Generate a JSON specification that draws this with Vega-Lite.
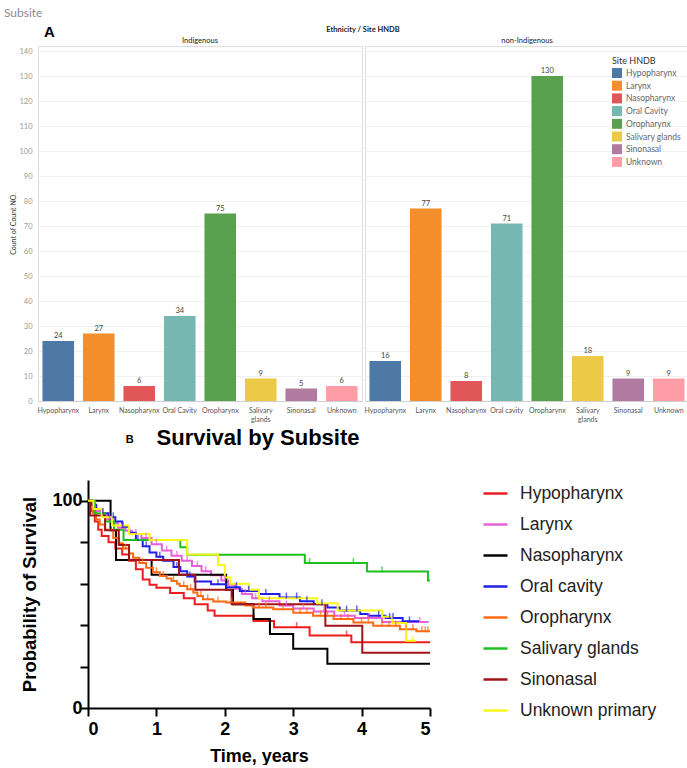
{
  "$schema": "https://vega.github.io/schema/vega-lite/v6.json",
  "background": "white",
  "padding": {"left": 3, "top": 6, "right": 0, "bottom": 0},
  "title": {"text": "Subsite", "anchor": "start", "frame": "bounds", "fontSize": 12, "fontWeight": "normal", "font": "Lato", "color": "#8a8a8a", "dx": -6, "offset": 5},
  "datasets": {
    "bars": [
      {"eth": "Indigenous", "site": "Hypopharynx", "label": "Hypopharynx", "count": 24},
      {"eth": "Indigenous", "site": "Larynx", "label": "Larynx", "count": 27},
      {"eth": "Indigenous", "site": "Nasopharynx", "label": "Nasopharynx", "count": 6},
      {"eth": "Indigenous", "site": "Oral Cavity", "label": "Oral Cavity", "count": 34},
      {"eth": "Indigenous", "site": "Oropharynx", "label": "Oropharynx", "count": 75},
      {"eth": "Indigenous", "site": "Salivary glands", "label": "Salivary glands", "count": 9},
      {"eth": "Indigenous", "site": "Sinonasal", "label": "Sinonasal", "count": 5},
      {"eth": "Indigenous", "site": "Unknown", "label": "Unknown", "count": 6},
      {"eth": "non-Indigenous", "site": "Hypopharynx", "label": "Hypopharynx", "count": 16},
      {"eth": "non-Indigenous", "site": "Larynx", "label": "Larynx", "count": 77},
      {"eth": "non-Indigenous", "site": "Nasopharynx", "label": "Nasopharynx", "count": 8},
      {"eth": "non-Indigenous", "site": "Oral Cavity", "label": "Oral cavity", "count": 71},
      {"eth": "non-Indigenous", "site": "Oropharynx", "label": "Oropharynx", "count": 130},
      {"eth": "non-Indigenous", "site": "Salivary glands", "label": "Salivary glands", "count": 18},
      {"eth": "non-Indigenous", "site": "Sinonasal", "label": "Sinonasal", "count": 9},
      {"eth": "non-Indigenous", "site": "Unknown", "label": "Unknown", "count": 9}
    ],
    "km": [
      {"g": "Hypopharynx", "t": 0, "s": 100}, {"g": "Hypopharynx", "t": 0.05, "s": 95}, {"g": "Hypopharynx", "t": 0.1, "s": 90}, {"g": "Hypopharynx", "t": 0.15, "s": 86}, {"g": "Hypopharynx", "t": 0.2, "s": 83}, {"g": "Hypopharynx", "t": 0.3, "s": 80}, {"g": "Hypopharynx", "t": 0.4, "s": 77}, {"g": "Hypopharynx", "t": 0.5, "s": 74}, {"g": "Hypopharynx", "t": 0.6, "s": 71}, {"g": "Hypopharynx", "t": 0.7, "s": 67}, {"g": "Hypopharynx", "t": 0.8, "s": 62}, {"g": "Hypopharynx", "t": 0.9, "s": 59.5}, {"g": "Hypopharynx", "t": 1.0, "s": 58}, {"g": "Hypopharynx", "t": 1.2, "s": 55.5}, {"g": "Hypopharynx", "t": 1.4, "s": 53}, {"g": "Hypopharynx", "t": 1.56, "s": 50}, {"g": "Hypopharynx", "t": 1.75, "s": 47}, {"g": "Hypopharynx", "t": 1.85, "s": 44.5}, {"g": "Hypopharynx", "t": 2.42, "s": 42}, {"g": "Hypopharynx", "t": 2.72, "s": 39}, {"g": "Hypopharynx", "t": 3.24, "s": 35}, {"g": "Hypopharynx", "t": 3.85, "s": 31.7}, {"g": "Hypopharynx", "t": 5, "s": 31.7},
      {"g": "Larynx", "t": 0, "s": 100}, {"g": "Larynx", "t": 0.05, "s": 97}, {"g": "Larynx", "t": 0.12, "s": 95}, {"g": "Larynx", "t": 0.2, "s": 93}, {"g": "Larynx", "t": 0.28, "s": 91}, {"g": "Larynx", "t": 0.36, "s": 89}, {"g": "Larynx", "t": 0.44, "s": 87}, {"g": "Larynx", "t": 0.55, "s": 85.5}, {"g": "Larynx", "t": 0.64, "s": 84}, {"g": "Larynx", "t": 0.78, "s": 82}, {"g": "Larynx", "t": 0.93, "s": 79}, {"g": "Larynx", "t": 1.08, "s": 76}, {"g": "Larynx", "t": 1.22, "s": 73.5}, {"g": "Larynx", "t": 1.37, "s": 71}, {"g": "Larynx", "t": 1.52, "s": 68.5}, {"g": "Larynx", "t": 1.66, "s": 66}, {"g": "Larynx", "t": 1.8, "s": 64}, {"g": "Larynx", "t": 1.95, "s": 61.5}, {"g": "Larynx", "t": 2.05, "s": 59.5}, {"g": "Larynx", "t": 2.15, "s": 57.5}, {"g": "Larynx", "t": 2.25, "s": 55}, {"g": "Larynx", "t": 2.4, "s": 53}, {"g": "Larynx", "t": 2.55, "s": 51.5}, {"g": "Larynx", "t": 2.8, "s": 49.5}, {"g": "Larynx", "t": 3.0, "s": 48}, {"g": "Larynx", "t": 3.3, "s": 46.5}, {"g": "Larynx", "t": 3.6, "s": 44.5}, {"g": "Larynx", "t": 3.9, "s": 43.4}, {"g": "Larynx", "t": 4.3, "s": 41.5}, {"g": "Larynx", "t": 4.98, "s": 41.5},
      {"g": "Nasopharynx", "t": 0, "s": 100}, {"g": "Nasopharynx", "t": 0.33, "s": 85.7}, {"g": "Nasopharynx", "t": 0.41, "s": 71.4}, {"g": "Nasopharynx", "t": 0.93, "s": 64.3}, {"g": "Nasopharynx", "t": 2.02, "s": 57.1}, {"g": "Nasopharynx", "t": 2.12, "s": 50}, {"g": "Nasopharynx", "t": 2.42, "s": 42.9}, {"g": "Nasopharynx", "t": 2.66, "s": 35.7}, {"g": "Nasopharynx", "t": 3.0, "s": 28.6}, {"g": "Nasopharynx", "t": 3.5, "s": 21.4}, {"g": "Nasopharynx", "t": 5, "s": 21.4},
      {"g": "Oral cavity", "t": 0, "s": 100}, {"g": "Oral cavity", "t": 0.05, "s": 98}, {"g": "Oral cavity", "t": 0.12, "s": 96}, {"g": "Oral cavity", "t": 0.2, "s": 94}, {"g": "Oral cavity", "t": 0.3, "s": 92}, {"g": "Oral cavity", "t": 0.4, "s": 90}, {"g": "Oral cavity", "t": 0.5, "s": 87.5}, {"g": "Oral cavity", "t": 0.6, "s": 84.5}, {"g": "Oral cavity", "t": 0.7, "s": 81}, {"g": "Oral cavity", "t": 0.8, "s": 78}, {"g": "Oral cavity", "t": 0.9, "s": 75}, {"g": "Oral cavity", "t": 1.0, "s": 73}, {"g": "Oral cavity", "t": 1.1, "s": 71}, {"g": "Oral cavity", "t": 1.25, "s": 68}, {"g": "Oral cavity", "t": 1.35, "s": 66}, {"g": "Oral cavity", "t": 1.45, "s": 63.5}, {"g": "Oral cavity", "t": 1.56, "s": 61}, {"g": "Oral cavity", "t": 1.8, "s": 59.7}, {"g": "Oral cavity", "t": 2.02, "s": 58.3}, {"g": "Oral cavity", "t": 2.22, "s": 56.5}, {"g": "Oral cavity", "t": 2.5, "s": 55}, {"g": "Oral cavity", "t": 2.8, "s": 53.3}, {"g": "Oral cavity", "t": 3.1, "s": 51.5}, {"g": "Oral cavity", "t": 3.3, "s": 50}, {"g": "Oral cavity", "t": 3.5, "s": 48.5}, {"g": "Oral cavity", "t": 3.68, "s": 47}, {"g": "Oral cavity", "t": 3.98, "s": 45.3}, {"g": "Oral cavity", "t": 4.1, "s": 44.5}, {"g": "Oral cavity", "t": 4.35, "s": 43.4}, {"g": "Oral cavity", "t": 4.6, "s": 41.8}, {"g": "Oral cavity", "t": 4.84, "s": 41.8},
      {"g": "Oropharynx", "t": 0, "s": 100}, {"g": "Oropharynx", "t": 0.03, "s": 97}, {"g": "Oropharynx", "t": 0.07, "s": 94}, {"g": "Oropharynx", "t": 0.12, "s": 91}, {"g": "Oropharynx", "t": 0.17, "s": 88.5}, {"g": "Oropharynx", "t": 0.25, "s": 86}, {"g": "Oropharynx", "t": 0.37, "s": 82}, {"g": "Oropharynx", "t": 0.45, "s": 79.5}, {"g": "Oropharynx", "t": 0.51, "s": 77}, {"g": "Oropharynx", "t": 0.6, "s": 74.5}, {"g": "Oropharynx", "t": 0.66, "s": 72.5}, {"g": "Oropharynx", "t": 0.75, "s": 70}, {"g": "Oropharynx", "t": 0.85, "s": 67.7}, {"g": "Oropharynx", "t": 0.95, "s": 65.5}, {"g": "Oropharynx", "t": 1.05, "s": 63.7}, {"g": "Oropharynx", "t": 1.15, "s": 62.5}, {"g": "Oropharynx", "t": 1.22, "s": 61.3}, {"g": "Oropharynx", "t": 1.3, "s": 60}, {"g": "Oropharynx", "t": 1.34, "s": 58.9}, {"g": "Oropharynx", "t": 1.45, "s": 57.3}, {"g": "Oropharynx", "t": 1.54, "s": 55.7}, {"g": "Oropharynx", "t": 1.6, "s": 54}, {"g": "Oropharynx", "t": 1.68, "s": 52.5}, {"g": "Oropharynx", "t": 1.83, "s": 51.4}, {"g": "Oropharynx", "t": 2.02, "s": 50.9}, {"g": "Oropharynx", "t": 2.3, "s": 49.5}, {"g": "Oropharynx", "t": 2.41, "s": 48.5}, {"g": "Oropharynx", "t": 2.71, "s": 47.7}, {"g": "Oropharynx", "t": 3.0, "s": 46}, {"g": "Oropharynx", "t": 3.29, "s": 44.5}, {"g": "Oropharynx", "t": 3.59, "s": 42.9}, {"g": "Oropharynx", "t": 3.88, "s": 41.3}, {"g": "Oropharynx", "t": 4.17, "s": 39.7}, {"g": "Oropharynx", "t": 4.56, "s": 38}, {"g": "Oropharynx", "t": 4.8, "s": 37}, {"g": "Oropharynx", "t": 5.0, "s": 37},
      {"g": "Salivary glands", "t": 0, "s": 100}, {"g": "Salivary glands", "t": 0.1, "s": 94}, {"g": "Salivary glands", "t": 0.25, "s": 90}, {"g": "Salivary glands", "t": 0.38, "s": 86}, {"g": "Salivary glands", "t": 0.52, "s": 81}, {"g": "Salivary glands", "t": 1.35, "s": 77.5}, {"g": "Salivary glands", "t": 1.45, "s": 73.9}, {"g": "Salivary glands", "t": 3.17, "s": 69.9}, {"g": "Salivary glands", "t": 4.08, "s": 65.9}, {"g": "Salivary glands", "t": 4.97, "s": 61.5}, {"g": "Salivary glands", "t": 5.0, "s": 61.5},
      {"g": "Sinonasal", "t": 0, "s": 100}, {"g": "Sinonasal", "t": 0.03, "s": 92.9}, {"g": "Sinonasal", "t": 0.25, "s": 85.7}, {"g": "Sinonasal", "t": 0.45, "s": 78.6}, {"g": "Sinonasal", "t": 0.6, "s": 71.4}, {"g": "Sinonasal", "t": 1.33, "s": 64.3}, {"g": "Sinonasal", "t": 1.57, "s": 57.1}, {"g": "Sinonasal", "t": 2.1, "s": 50}, {"g": "Sinonasal", "t": 3.47, "s": 39.7}, {"g": "Sinonasal", "t": 4.01, "s": 26.6}, {"g": "Sinonasal", "t": 5, "s": 26.6},
      {"g": "Unknown primary", "t": 0, "s": 100}, {"g": "Unknown primary", "t": 0.08, "s": 96}, {"g": "Unknown primary", "t": 0.2, "s": 92}, {"g": "Unknown primary", "t": 0.35, "s": 88}, {"g": "Unknown primary", "t": 0.6, "s": 84}, {"g": "Unknown primary", "t": 0.9, "s": 81}, {"g": "Unknown primary", "t": 1.45, "s": 74}, {"g": "Unknown primary", "t": 1.9, "s": 69}, {"g": "Unknown primary", "t": 2.0, "s": 63}, {"g": "Unknown primary", "t": 2.08, "s": 60}, {"g": "Unknown primary", "t": 2.35, "s": 57}, {"g": "Unknown primary", "t": 2.5, "s": 53}, {"g": "Unknown primary", "t": 3.35, "s": 50.5}, {"g": "Unknown primary", "t": 3.65, "s": 47}, {"g": "Unknown primary", "t": 4.3, "s": 44}, {"g": "Unknown primary", "t": 4.45, "s": 41}, {"g": "Unknown primary", "t": 4.65, "s": 32.5}, {"g": "Unknown primary", "t": 4.8, "s": 32.5}
    ],
    "cens": [
      {"g": "Hypopharynx", "t": 3.05, "s": 39}, {"g": "Hypopharynx", "t": 3.78, "s": 35},
      {"g": "Larynx", "t": 0.32, "s": 91}, {"g": "Larynx", "t": 0.5, "s": 87}, {"g": "Larynx", "t": 0.7, "s": 84}, {"g": "Larynx", "t": 0.85, "s": 82}, {"g": "Larynx", "t": 1.0, "s": 79}, {"g": "Larynx", "t": 1.15, "s": 76}, {"g": "Larynx", "t": 1.3, "s": 73.5}, {"g": "Larynx", "t": 1.45, "s": 71}, {"g": "Larynx", "t": 1.6, "s": 68.5}, {"g": "Larynx", "t": 1.72, "s": 66}, {"g": "Larynx", "t": 2.0, "s": 61.5}, {"g": "Larynx", "t": 2.3, "s": 55}, {"g": "Larynx", "t": 2.45, "s": 53}, {"g": "Larynx", "t": 2.65, "s": 51.5}, {"g": "Larynx", "t": 2.9, "s": 49.5}, {"g": "Larynx", "t": 3.15, "s": 48}, {"g": "Larynx", "t": 3.45, "s": 46.5}, {"g": "Larynx", "t": 3.75, "s": 44.5}, {"g": "Larynx", "t": 4.1, "s": 43.4}, {"g": "Larynx", "t": 4.85, "s": 41.5},
      {"g": "Oral cavity", "t": 0.22, "s": 94}, {"g": "Oral cavity", "t": 0.37, "s": 92}, {"g": "Oral cavity", "t": 0.51, "s": 87.5}, {"g": "Oral cavity", "t": 0.73, "s": 81}, {"g": "Oral cavity", "t": 0.85, "s": 78}, {"g": "Oral cavity", "t": 1.05, "s": 73}, {"g": "Oral cavity", "t": 1.3, "s": 68}, {"g": "Oral cavity", "t": 1.49, "s": 63.5}, {"g": "Oral cavity", "t": 1.9, "s": 59.7}, {"g": "Oral cavity", "t": 2.17, "s": 58.3}, {"g": "Oral cavity", "t": 2.35, "s": 56.5}, {"g": "Oral cavity", "t": 2.6, "s": 55}, {"g": "Oral cavity", "t": 2.9, "s": 53.3}, {"g": "Oral cavity", "t": 3.05, "s": 53.3}, {"g": "Oral cavity", "t": 3.2, "s": 51.5}, {"g": "Oral cavity", "t": 3.42, "s": 50}, {"g": "Oral cavity", "t": 3.78, "s": 47}, {"g": "Oral cavity", "t": 3.93, "s": 47}, {"g": "Oral cavity", "t": 4.25, "s": 44.5}, {"g": "Oral cavity", "t": 4.41, "s": 43.4}, {"g": "Oral cavity", "t": 4.46, "s": 43.4}, {"g": "Oral cavity", "t": 4.7, "s": 41.8},
      {"g": "Oropharynx", "t": 0.55, "s": 77}, {"g": "Oropharynx", "t": 0.8, "s": 70}, {"g": "Oropharynx", "t": 1.0, "s": 65.5}, {"g": "Oropharynx", "t": 1.1, "s": 63.7}, {"g": "Oropharynx", "t": 1.25, "s": 61.3}, {"g": "Oropharynx", "t": 1.4, "s": 58.9}, {"g": "Oropharynx", "t": 1.5, "s": 57.3}, {"g": "Oropharynx", "t": 1.65, "s": 54}, {"g": "Oropharynx", "t": 1.75, "s": 52.5}, {"g": "Oropharynx", "t": 1.9, "s": 51.4}, {"g": "Oropharynx", "t": 2.1, "s": 50.9}, {"g": "Oropharynx", "t": 2.5, "s": 48.5}, {"g": "Oropharynx", "t": 2.6, "s": 48.5}, {"g": "Oropharynx", "t": 2.85, "s": 47.7}, {"g": "Oropharynx", "t": 3.1, "s": 46}, {"g": "Oropharynx", "t": 3.2, "s": 46}, {"g": "Oropharynx", "t": 3.4, "s": 44.5}, {"g": "Oropharynx", "t": 3.5, "s": 44.5}, {"g": "Oropharynx", "t": 3.7, "s": 42.9}, {"g": "Oropharynx", "t": 3.8, "s": 42.9}, {"g": "Oropharynx", "t": 4.0, "s": 41.3}, {"g": "Oropharynx", "t": 4.1, "s": 41.3}, {"g": "Oropharynx", "t": 4.3, "s": 39.7}, {"g": "Oropharynx", "t": 4.4, "s": 39.7}, {"g": "Oropharynx", "t": 4.5, "s": 39.7}, {"g": "Oropharynx", "t": 4.65, "s": 38}, {"g": "Oropharynx", "t": 4.75, "s": 38}, {"g": "Oropharynx", "t": 4.88, "s": 37}, {"g": "Oropharynx", "t": 4.93, "s": 37}, {"g": "Oropharynx", "t": 4.97, "s": 37},
      {"g": "Salivary glands", "t": 3.24, "s": 69.9}, {"g": "Salivary glands", "t": 3.88, "s": 69.9}, {"g": "Salivary glands", "t": 4.3, "s": 65.9},
      {"g": "Unknown primary", "t": 4.75, "s": 32.5}
    ]
  },
  "concat": [
    {
      "data": {"name": "bars"},
      "title": {"text": "A", "anchor": "start", "frame": "group", "font": "Liberation Sans", "fontSize": 15, "fontWeight": "bold", "color": "#000", "dx": 6, "offset": -14},
      "facet": {
        "column": {
          "field": "eth", "type": "nominal", "sort": ["Indigenous", "non-Indigenous"],
          "header": {"title": "Ethnicity / Site HNDB", "titleFont": "Lato", "titleFontSize": 7.5, "titleFontWeight": "bold", "titleColor": "#222", "titlePadding": -7, "labelFont": "Lato", "labelFontSize": 7.5, "labelColor": "#222", "labelPadding": 1}
        }
      },
      "spacing": 0,
      "resolve": {"scale": {"x": "independent"}},
      "spec": {
        "width": 324,
        "height": 355,
        "view": {"stroke": "#dedede"},
        "encoding": {
          "x": {"field": "label", "type": "nominal", "sort": null, "title": null,
            "scale": {"paddingInner": 0.22, "paddingOuter": 0.11},
            "axis": {"labelAngle": 0, "labelFont": "Lato", "labelFontSize": 7, "labelColor": "#555", "ticks": false, "domainColor": "#d0d0d0", "labelPadding": 5, "labelLineHeight": 9,
              "labelExpr": "datum.value == 'Salivary glands' ? ['Salivary', 'glands'] : datum.value"}},
          "y": {"field": "count", "type": "quantitative", "title": "Count of Count NO.",
            "scale": {"domain": [0, 142], "nice": false},
            "axis": {"values": [0, 10, 20, 30, 40, 50, 60, 70, 80, 90, 100, 110, 120, 130, 140], "grid": true, "gridColor": "#f0f0f0", "domain": false, "ticks": false, "labelFont": "Lato", "labelFontSize": 7.5, "labelColor": "#999", "labelPadding": 4, "titleFont": "Lato", "titleFontSize": 7, "titleFontWeight": "normal", "titleColor": "#333", "titlePadding": 2}}
        },
        "layer": [
          {
            "mark": {"type": "bar"},
            "encoding": {
              "color": {"field": "site", "type": "nominal",
                "scale": {"domain": ["Hypopharynx", "Larynx", "Nasopharynx", "Oral Cavity", "Oropharynx", "Salivary glands", "Sinonasal", "Unknown"],
                  "range": ["#4e79a7", "#f28e2b", "#e15759", "#76b7b2", "#59a14f", "#edc948", "#b07aa1", "#ff9da7"]},
                "legend": {"title": "Site HNDB", "orient": "none", "legendX": 574, "legendY": 11, "titleFont": "Lato", "titleFontSize": 9, "titleFontWeight": "normal", "titleColor": "#333", "titlePadding": 2, "labelFont": "Lato", "labelFontSize": 8.5, "labelColor": "#666", "symbolType": "square", "symbolSize": 100, "symbolStrokeWidth": 0, "rowPadding": 2.7, "labelOffset": 4, "padding": 0}}
            }
          },
          {
            "mark": {"type": "text", "dy": -5, "font": "Lato", "fontSize": 7.5, "color": "#444"},
            "encoding": {"text": {"field": "count", "type": "quantitative"}}
          }
        ]
      }
    },
    {
      "width": 392,
      "height": 228,
      "title": {"text": "Survival by Subsite", "font": "Liberation Sans", "fontSize": 22, "fontWeight": "bold", "color": "#000", "anchor": "middle", "frame": "group", "offset": -16, "dx": 24},
      "layer": [
        {
          "data": {"name": "km"},
          "mark": {"type": "line", "interpolate": "step-after", "strokeWidth": 2},
          "encoding": {
            "x": {"field": "t", "type": "quantitative", "scale": {"domain": [0, 5], "nice": false, "range": [50, 392]},
              "axis": {"values": [0, 1, 2, 3, 4, 5], "format": "d", "title": "Time, years", "grid": false, "domainColor": "#000", "domainWidth": 2, "tickColor": "#000", "tickWidth": 2, "tickSize": 8, "labelFont": "Liberation Sans", "labelFontSize": 18, "labelFontWeight": "bold", "labelColor": "#000", "labelPadding": 4, "titleFont": "Liberation Sans", "titleFontSize": 18, "titleFontWeight": "bold", "titleColor": "#000", "titlePadding": 9}},
            "y": {"field": "s", "type": "quantitative", "scale": {"domain": [0, 110], "nice": false},
              "axis": {"offset": -50, "values": [0, 5, 10, 15, 20, 25, 30, 35, 40, 45, 50, 55, 60, 65, 70, 75, 80, 85, 90, 95, 100, 105, 110], "labelExpr": "datum.value % 50 == 0 ? datum.label : ''", "labelOverlap": false, "title": "Probability of Survival", "grid": false, "domainColor": "#000", "domainWidth": 2, "tickColor": "#000", "tickWidth": 2, "tickSize": 8, "labelFont": "Liberation Sans", "labelFontSize": 18, "labelFontWeight": "bold", "labelColor": "#000", "labelPadding": -2, "titleFont": "Liberation Sans", "titleFontSize": 18.5, "titleFontWeight": "bold", "titleColor": "#000", "titlePadding": 12}},
            "color": {"field": "g", "type": "nominal",
              "scale": {"domain": ["Hypopharynx", "Larynx", "Nasopharynx", "Oral cavity", "Oropharynx", "Salivary glands", "Sinonasal", "Unknown primary"],
                "range": ["#ee1c1c", "#e860d8", "#000000", "#2020e8", "#ff6a13", "#1ec01e", "#a3141a", "#f7f71a"]},
              "legend": {"title": null, "orient": "right", "offset": 48, "symbolType": "stroke", "symbolSize": 576, "symbolStrokeWidth": 2.5, "labelFont": "Liberation Sans", "labelFontSize": 17.5, "labelColor": "#222", "labelOffset": 11, "rowPadding": 9, "padding": 0, "labelLimit": 300}}
          }
        },
        {
          "data": {"name": "cens"},
          "mark": {"type": "tick", "orient": "vertical", "size": 6, "thickness": 1.5, "yOffset": -2},
          "encoding": {
            "x": {"field": "t", "type": "quantitative"},
            "y": {"field": "s", "type": "quantitative"},
            "color": {"field": "g", "type": "nominal", "legend": null}
          }
        },
        {
          "data": {"values": [{"lab": "B"}]},
          "mark": {"type": "text", "font": "Liberation Sans", "fontSize": 11, "fontWeight": "bold", "dy": -40, "color": "#000"},
          "encoding": {"x": {"datum": 0.61}, "y": {"datum": 110}, "text": {"field": "lab"}}
        }
      ]
    }
  ],
  "columns": 1,
  "align": "none",
  "spacing": 4,
  "resolve": {"scale": {"color": "independent"}, "legend": {"color": "independent"}},
  "config": {"view": {"stroke": null}}
}
